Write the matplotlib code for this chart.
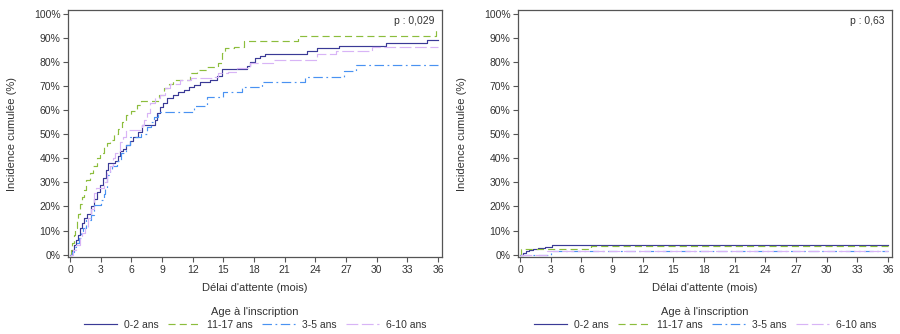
import matplotlib
matplotlib.use("Agg")
import matplotlib.pyplot as plt
from matplotlib.ticker import FuncFormatter

# ---------------- data ----------------
groups = ["0-2 ans", "11-17 ans", "3-5 ans", "6-10 ans"]

# Left panel (p : 0,029)
l_t_02 = [0, 0.2, 0.4, 0.6, 0.8, 1.0, 1.2, 1.4, 1.7, 2.0, 2.3, 2.6, 2.9, 3.2, 3.5, 3.7, 4.4, 4.7, 4.9, 5.2,
          5.5, 5.9, 6.2, 6.6, 7.0, 8.3, 8.5, 8.8, 9.1, 9.5, 10.1, 10.6, 11.1, 11.6, 12.1, 12.7, 13.7, 14.4, 14.9, 17.3,
          17.6, 18.1, 18.6, 19.1, 23.2, 24.2, 26.3, 30.9, 34.9, 36]
l_v_02 = [0, 2, 4, 6, 8, 11, 13, 15, 17, 20, 23, 26, 29, 32, 35, 38, 39, 41, 43, 44,
          45.5, 47, 49, 51, 53.8, 56, 58.7, 61.4, 63, 65, 66.4, 67.5, 68.4, 69.5, 70.5, 71.8, 72.5, 74.2, 77, 78.5,
          80, 81.6, 82.5, 83.2, 84.7, 85.7, 86.7, 88, 89.2, 89.2]

l_t_1117 = [0, 0.1, 0.2, 0.35, 0.5, 0.65, 0.8, 1.0, 1.2, 1.4, 1.6, 1.9, 2.2, 2.6, 2.9, 3.3, 3.6, 3.9, 4.3, 4.7,
            5.1, 5.5, 6.0, 6.5, 6.9, 8.7, 9.2, 9.7, 10.1, 11.7, 12.4, 13.4, 14.5, 14.9, 15.2, 16.0, 17.0, 22.3, 35.8, 36]
l_v_1117 = [0, 2, 5, 8, 11, 14, 17, 21, 24, 27, 31, 34, 37, 40, 42, 45, 46.5, 47.6, 50, 52,
            55, 58, 59.5, 62, 64, 66.3, 69, 71, 72.5, 75.3, 76.7, 78, 79.5, 83.6, 85.7, 86.4, 88.9, 91, 93.6, 93.6]

l_t_35 = [0, 0.2, 0.4, 0.6, 0.9, 1.1, 1.3, 1.6, 2.0, 2.3, 3.0, 3.3, 3.4, 3.6, 3.9, 4.1, 4.6, 5.0, 5.5, 5.9,
          6.9, 7.5, 7.9, 8.2, 8.6, 12.1, 13.4, 15.0, 16.8, 18.8, 23.0, 26.8, 28.0, 36]
l_v_35 = [0, 1, 3, 4.7, 7, 8.8, 11, 14.3, 16.4, 20.5, 22.6, 25, 27.5, 33, 35, 37, 39, 42, 45.5, 49,
          50.3, 53, 55, 57, 59.3, 61.7, 65.3, 67.7, 69.7, 71.8, 73.9, 76.4, 78.8, 78.8]

l_t_610 = [0, 0.3, 0.6, 1.0, 1.2, 1.5, 1.8, 2.0, 2.3, 2.5, 3.3, 3.6, 3.9, 4.2, 4.4, 4.9, 5.2, 5.5, 7.0, 7.2,
           7.5, 7.8, 8.3, 8.8, 9.3, 9.8, 10.8, 11.8, 14.0, 14.5, 15.5, 16.3, 17.6, 19.9, 24.2, 26.0, 29.5, 36]
l_v_610 = [0, 1.8, 4, 6.8, 9, 11, 15, 19, 25.5, 27.5, 30, 33.8, 37, 40, 42, 46.9, 49, 51.7, 54, 55.9,
           58.7, 62.8, 65, 66.4, 69, 71, 72.5, 73.2, 73.9, 75.3, 76, 77.4, 79.5, 80.9, 83.2, 84.6, 86.4, 86.4]

# Right panel (p : 0,63)
r_t_02 = [0, 0.3, 0.6, 0.9, 1.3, 1.8, 2.4, 3.1, 36]
r_v_02 = [0, 0.7, 1.4, 2.1, 2.5, 2.9, 3.3, 4.0, 4.0]
r_t_1117 = [0, 0.1, 6.9, 36]
r_v_1117 = [0, 2.3, 3.4, 3.4]
r_t_35 = [0, 3.0, 36]
r_v_35 = [0, 1.6, 1.6]
r_t_610 = [0, 2.6, 36]
r_v_610 = [0, 1.5, 1.5]

p_values = ["p : 0,029", "p : 0,63"]
x_ticks = list(range(0, 37, 3))
y_ticks = list(range(0, 101, 10))

# ---------------- style ----------------
plt.rcParams['font.family'] = ['Liberation Sans', 'DejaVu Sans']
FS = 7.5
TXT = '#333333'
colors = ['#3a3a96', '#8cbd3c', '#4a92f2', '#d8b4f6']
styles = ['-', (0, (6, 3.5)), (0, (8, 3, 1.5, 3)), (0, (10, 3))]

fig = plt.figure(figsize=(9, 3.34), dpi=100)
ax_l = fig.add_axes([0.0756, 0.2305, 0.4156, 0.7395])
ax_r = fig.add_axes([0.5756, 0.2305, 0.4156, 0.7395])

left_series = [(l_t_02, l_v_02), (l_t_1117, l_v_1117), (l_t_35, l_v_35), (l_t_610, l_v_610)]
right_series = [(r_t_02, r_v_02), (r_t_1117, r_v_1117), (r_t_35, r_v_35), (r_t_610, r_v_610)]

for ax, series, ptxt in [(ax_l, left_series, p_values[0]), (ax_r, right_series, p_values[1])]:
    for (t, v), c, ls, g in zip(series, colors, styles, groups):
        ax.step(t, v, where='post', color=c, linestyle=ls, linewidth=0.85, label=g)
    ax.set_xlim(-0.2, 36.4)
    ax.set_ylim(-1, 101.6)
    ax.set_xticks(x_ticks)
    ax.set_yticks(y_ticks)
    ax.yaxis.set_major_formatter(FuncFormatter(lambda v, p: f"{int(v)}%"))
    ax.tick_params(axis='both', direction='out', length=3.5, width=0.8, color='#555555',
                   labelsize=FS, labelcolor=TXT, pad=2)
    for s in ax.spines.values():
        s.set_color('#555555')
        s.set_linewidth(0.9)
    ax.set_xlabel("Délai d'attente (mois)", fontsize=FS + 0.5, color=TXT)
    ax.set_ylabel("Incidence cumulée (%)", fontsize=FS + 0.5, color=TXT)
    ax.xaxis.set_label_coords(0.5, -0.105)
    ax.yaxis.set_label_coords(-0.136, 0.5)
    ax.text(0.981, 0.955, ptxt, transform=ax.transAxes, ha='right', va='center',
            fontsize=FS, color=TXT)
    leg = ax.legend(loc='upper center', bbox_to_anchor=(0.5, -0.178), ncol=4, frameon=False,
                    title="Age à l'inscription", fontsize=FS, title_fontsize=FS + 0.5,
                    handlelength=3.2, handletextpad=0.6, columnspacing=0.9, borderpad=0.1,
                    labelspacing=0.2)
    leg.get_title().set_color(TXT)
    for tx in leg.get_texts():
        tx.set_color(TXT)
    leg._legend_box.sep = 2

fig.savefig("out.png", dpi=100)
